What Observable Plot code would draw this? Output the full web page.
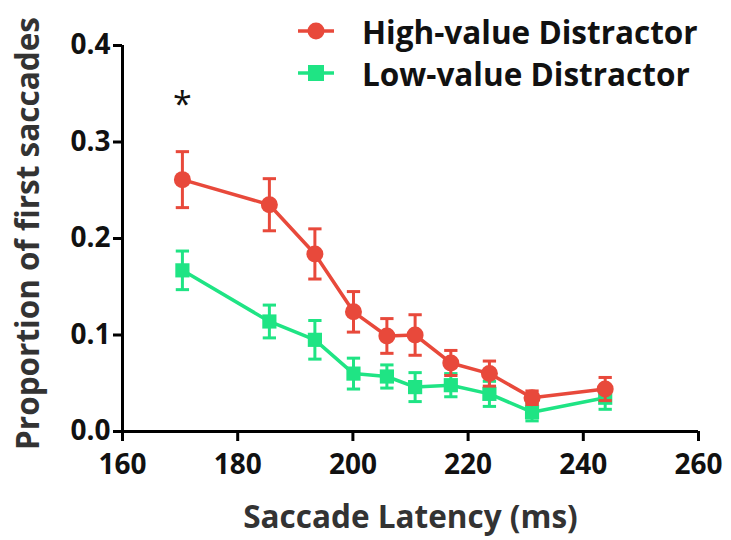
<!DOCTYPE html>
<html>
<head>
<meta charset="utf-8">
<script src="https://cdn.jsdelivr.net/npm/d3@7"></script>
<script src="https://cdn.jsdelivr.net/npm/@observablehq/plot@0.6"></script>
<style>
  html, body { margin: 0; padding: 0; background: #fff; }
  #wrap { position: relative; width: 731px; height: 540px; font-family: "Open Sans", sans-serif; }
  #legend { position: absolute; left: 296px; top: 10px; font-weight: 700; font-size: 31.5px; color: #111; }
  #legend .item { display: flex; align-items: center; height: 42px; }
  #legend svg { margin-right: 26px; }
  g[aria-label="x-axis label"] text { font-size: 31.5px; }
</style>
</head>
<body>
<div id="wrap">
  <div id="legend"></div>
</div>
<script>
const latency = [170.4, 185.5, 193.4, 200.1, 205.9, 210.8, 217.0, 223.7, 231.1, 243.8];
const highMean = [0.261, 0.235, 0.184, 0.124, 0.099, 0.100, 0.071, 0.060, 0.035, 0.044];
const highSem  = [0.029, 0.027, 0.026, 0.021, 0.018, 0.021, 0.013, 0.013, 0.007, 0.012];
const lowMean  = [0.167, 0.114, 0.095, 0.060, 0.057, 0.046, 0.048, 0.039, 0.020, 0.035];
const lowSem   = [0.020, 0.017, 0.020, 0.016, 0.012, 0.015, 0.012, 0.013, 0.009, 0.012];
const seriesNames = ["High-value Distractor", "Low-value Distractor"];
const seriesColors = ["#e8493b", "#1fe484"];
const xTicks = [160, 180, 200, 220, 240, 260];
const yTicks = [0, 0.1, 0.2, 0.3, 0.4];
const xTitle = "Saccade Latency (ms)";
const yTitle = "Proportion of first saccades";
const annotations = [{x: 170.4, y: 0.344, text: "*"}];

const rows = [];
latency.forEach((x, i) => {
  rows.push({series: seriesNames[0], x, y: highMean[i], lo: highMean[i] - highSem[i], hi: highMean[i] + highSem[i]});
  rows.push({series: seriesNames[1], x, y: lowMean[i], lo: lowMean[i] - lowSem[i], hi: lowMean[i] + lowSem[i]});
});
const high = rows.filter(d => d.series === seriesNames[0]);
const low = rows.filter(d => d.series === seriesNames[1]);

const cap = { draw(ctx, size) { const w = Math.sqrt(size) / 2; ctx.moveTo(-w, 0); ctx.lineTo(w, 0); } };
const squareSym = { draw(ctx, size) { const w = Math.sqrt(size) / 2; ctx.rect(-w, -w, 2 * w, 2 * w); } };

function seriesMarks(data, color, symbol, r) {
  return [
    Plot.ruleX(data, {x: "x", y1: "lo", y2: "hi", stroke: color, strokeWidth: 3}),
    Plot.dot(data, {x: "x", y: "hi", symbol: cap, r: 7.5, stroke: color, strokeWidth: 3, fill: "none"}),
    Plot.dot(data, {x: "x", y: "lo", symbol: cap, r: 7.5, stroke: color, strokeWidth: 3, fill: "none"}),
    Plot.line(data, {x: "x", y: "y", stroke: color, strokeWidth: 3.5}),
    Plot.dot(data, {x: "x", y: "y", symbol, r, fill: color, stroke: "none"})
  ];
}

const chart = Plot.plot({
  width: 731,
  height: 540,
  marginLeft: 122,
  marginRight: 33,
  marginTop: 45,
  marginBottom: 109,
  style: {fontFamily: "'Open Sans', sans-serif", fontWeight: 700, color: "#000", background: "#fff", overflow: "visible"},
  x: {domain: [160, 260]},
  y: {domain: [0, 0.4]},
  marks: [
    Plot.axisX({ticks: xTicks, tickSize: 10, tickPadding: 13, strokeWidth: 3, fontSize: 28, fill: "#111",
      label: xTitle, labelAnchor: "center", labelArrow: false, labelOffset: 96}),
    Plot.axisY({ticks: yTicks, tickFormat: d3.format(".1f"), tickSize: 9, tickPadding: 3, strokeWidth: 3, fontSize: 28, fill: "#111", label: null}),
    Plot.ruleY([0], {strokeWidth: 3}),
    Plot.ruleX([160], {strokeWidth: 3}),
    Plot.text([yTitle], {frameAnchor: "left", textAnchor: "middle", rotate: -90, dx: -94, dy: -5, fontSize: 31.5, fontWeight: 700, fill: "#333", text: d => d}),
    ...seriesMarks(low, seriesColors[1], squareSym, 8),
    ...seriesMarks(high, seriesColors[0], "circle", 8.5),
    Plot.text(annotations, {x: "x", y: "y", text: "text", fontSize: 34, fontWeight: 400, fill: "#111", dy: 6})
  ]
});
chart.querySelectorAll('g[aria-label="x-axis label"] text').forEach(t => t.setAttribute("fill", "#333"));
document.getElementById("wrap").appendChild(chart);

const legend = document.getElementById("legend");
seriesNames.forEach((name, i) => {
  const item = document.createElement("div");
  item.className = "item";
  const marker = i === 0
    ? `<circle cx="20" cy="10" r="8.5" fill="${seriesColors[i]}"/>`
    : `<rect x="12" y="2" width="16" height="16" fill="${seriesColors[i]}"/>`;
  item.innerHTML = `<svg width="40" height="20"><line x1="2" x2="38" y1="10" y2="10" stroke="${seriesColors[i]}" stroke-width="3.5"/>${marker}</svg><span>${name}</span>`;
  legend.appendChild(item);
});
</script>
</body>
</html>
